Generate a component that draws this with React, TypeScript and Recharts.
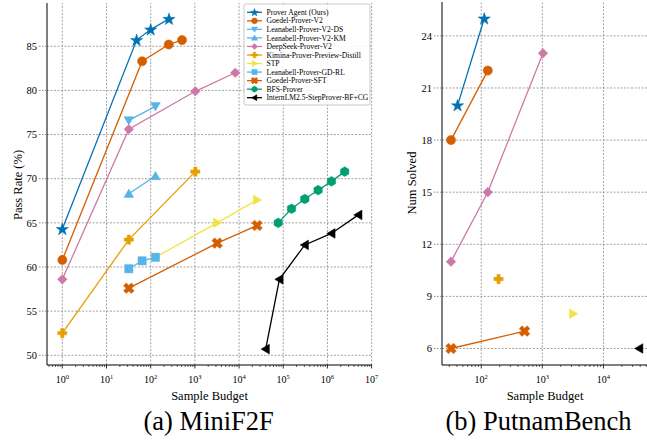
import React from "react";
import { LineChart, Line, XAxis, YAxis, ReferenceLine } from "recharts";

const FONT = "'Liberation Serif', 'Times New Roman', 'DejaVu Serif', serif";

// ---- MiniF2F: pass rate (%) vs sample budget ----
const agentF2FBudget = [1, 48, 100, 260];
const agentF2FPass = [64.3, 85.7, 86.9, 88.1];
const goedelV2F2FBudget = [1, 64, 256, 512];
const goedelV2F2FPass = [60.8, 83.3, 85.2, 85.7];
const leanDsBudget = [32, 128];
const leanDsPass = [76.6, 78.2];
const leanKmBudget = [32, 128];
const leanKmPass = [68.3, 70.3];
const deepseekF2FBudget = [1, 32, 1024, 8192];
const deepseekF2FPass = [58.6, 75.6, 79.9, 82.0];
const kiminaF2FBudget = [1, 32, 1024];
const kiminaF2FPass = [52.5, 63.1, 70.8];
const stpF2FBudget = [128, 3200, 25600];
const stpF2FPass = [61.1, 65.0, 67.6];
const leanGdBudget = [32, 64, 128];
const leanGdPass = [59.8, 60.7, 61.1];
const goedelSftF2FBudget = [32, 3200, 25600];
const goedelSftF2FPass = [57.6, 62.7, 64.7];
const bfsBudget = [76800, 153600, 307200, 614400, 1228800, 2457600];
const bfsPass = [65.0, 66.6, 67.7, 68.7, 69.7, 70.8];
const internF2FBudget = [40000, 81920, 307200, 1228800, 5000000];
const internF2FPass = [50.7, 58.6, 62.5, 63.8, 65.9];

// ---- PutnamBench: problems solved vs sample budget ----
const agentPutBudget = [41, 112];
const agentPutSolved = [20, 25];
const goedelV2PutBudget = [32, 128];
const goedelV2PutSolved = [18, 22];
const deepseekPutBudget = [32, 128, 1024];
const deepseekPutSolved = [11, 15, 23];
const kiminaPutBudget = [192];
const kiminaPutSolved = [10];
const stpPutBudget = [3200];
const stpPutSolved = [8];
const goedelSftPutBudget = [32, 512];
const goedelSftPutSolved = [6, 7];
const internPutBudget = [38400];
const internPutSolved = [6];

// axes
const f2fXMajor = [1, 10, 100, 1000, 10000, 100000, 1000000, 10000000];
const f2fYTicks = [50, 55, 60, 65, 70, 75, 80, 85];
const putXMajor = [100, 1000, 10000];
const putYTicks = [6, 9, 12, 15, 18, 21, 24];
const f2fXDomain = [0.45, 1.02e7];
const f2fYDomain = [48.9, 89.9];
const putXDomain = [22.8, 55600];
const putYDomain = [5.05, 25.95];

const zip = (xs: number[], ys: number[]) => xs.map((x, i) => ({ x, y: ys[i] }));

function logTicks(domain: number[]) {
  const out: number[] = [];
  for (let k = -2; k <= 8; k++) {
    for (let m = 1; m <= 9; m++) {
      const v = m * Math.pow(10, k);
      if (v >= domain[0] && v <= domain[1]) out.push(v);
    }
  }
  return out;
}

type Series = { name: string; color: string; shape: string; data: { x: number; y: number }[] };

const f2fSeries: Series[] = [
  { name: "Prover Agent (Ours)", color: "#0072B2", shape: "star", data: zip(agentF2FBudget, agentF2FPass) },
  { name: "Goedel-Prover-V2", color: "#D55E00", shape: "circle", data: zip(goedelV2F2FBudget, goedelV2F2FPass) },
  { name: "Leanabell-Prover-V2-DS", color: "#56B4E9", shape: "tdown", data: zip(leanDsBudget, leanDsPass) },
  { name: "Leanabell-Prover-V2-KM", color: "#56B4E9", shape: "tup", data: zip(leanKmBudget, leanKmPass) },
  { name: "DeepSeek-Prover-V2", color: "#CC79A7", shape: "diamond", data: zip(deepseekF2FBudget, deepseekF2FPass) },
  { name: "Kimina-Prover-Preview-Distill", color: "#E69F00", shape: "plus", data: zip(kiminaF2FBudget, kiminaF2FPass) },
  { name: "STP", color: "#F0E442", shape: "tright", data: zip(stpF2FBudget, stpF2FPass) },
  { name: "Leanabell-Prover-GD-RL", color: "#56B4E9", shape: "square", data: zip(leanGdBudget, leanGdPass) },
  { name: "Goedel-Prover-SFT", color: "#D55E00", shape: "x", data: zip(goedelSftF2FBudget, goedelSftF2FPass) },
  { name: "BFS-Prover", color: "#009E73", shape: "hexagon", data: zip(bfsBudget, bfsPass) },
  { name: "InternLM2.5-StepProver-BF+CG", color: "#000000", shape: "tleft", data: zip(internF2FBudget, internF2FPass) },
];

const putSeries: Series[] = [
  { name: "Prover Agent (Ours)", color: "#0072B2", shape: "star", data: zip(agentPutBudget, agentPutSolved) },
  { name: "Goedel-Prover-V2", color: "#D55E00", shape: "circle", data: zip(goedelV2PutBudget, goedelV2PutSolved) },
  { name: "DeepSeek-Prover-V2", color: "#CC79A7", shape: "diamond", data: zip(deepseekPutBudget, deepseekPutSolved) },
  { name: "Kimina-Prover-Preview-Distill", color: "#E69F00", shape: "plus", data: zip(kiminaPutBudget, kiminaPutSolved) },
  { name: "STP", color: "#F0E442", shape: "tright", data: zip(stpPutBudget, stpPutSolved) },
  { name: "Goedel-Prover-SFT", color: "#D55E00", shape: "x", data: zip(goedelSftPutBudget, goedelSftPutSolved) },
  { name: "InternLM2.5-StepProver-BF+CG", color: "#000000", shape: "tleft", data: zip(internPutBudget, internPutSolved) },
];

function Marker({ cx, cy, shape, color, s }: any) {
  if (cx == null || cy == null) return null;
  const common = { fill: color, stroke: color, strokeWidth: 0.5 };
  const poly = (pts: number[][]) => (
    <polygon points={pts.map(([a, b]) => `${cx + a * s},${cy + b * s}`).join(" ")} {...common} />
  );
  const a = 0.36;
  const plusPts = [
    [-a, -1], [a, -1], [a, -a], [1, -a], [1, a], [a, a],
    [a, 1], [-a, 1], [-a, a], [-1, a], [-1, -a], [-a, -a],
  ];
  switch (shape) {
    case "star": {
      const pts: number[][] = [];
      for (let i = 0; i < 10; i++) {
        const r = i % 2 === 0 ? 1.4 : 0.55;
        const ang = -Math.PI / 2 + (i * Math.PI) / 5;
        pts.push([r * Math.cos(ang), r * Math.sin(ang) + 0.1]);
      }
      return poly(pts);
    }
    case "circle":
      return <circle cx={cx} cy={cy} r={s} {...common} />;
    case "tdown":
      return poly([[-1.05, -0.8], [1.05, -0.8], [0, 1.0]]);
    case "tup":
      return poly([[-1.05, 0.8], [1.05, 0.8], [0, -1.0]]);
    case "tright":
      return poly([[-0.8, -1.05], [-0.8, 1.05], [1.0, 0]]);
    case "tleft":
      return poly([[0.8, -1.05], [0.8, 1.05], [-1.0, 0]]);
    case "diamond":
      return poly([[0, -1.05], [1.05, 0], [0, 1.05], [-1.05, 0]]);
    case "square":
      return poly([[-0.9, -0.9], [0.9, -0.9], [0.9, 0.9], [-0.9, 0.9]]);
    case "plus":
      return poly(plusPts);
    case "x":
      return poly(plusPts.map(([p, q]) => [((p - q) / Math.SQRT2) * 1.2, ((p + q) / Math.SQRT2) * 1.2]));
    case "hexagon": {
      const pts: number[][] = [];
      for (let i = 0; i < 6; i++) {
        const ang = -Math.PI / 2 + (i * Math.PI) / 3;
        pts.push([1.05 * Math.cos(ang), 1.05 * Math.sin(ang)]);
      }
      return poly(pts);
    }
    default:
      return null;
  }
}

function LogTick(props: any) {
  const { x, y, payload } = props;
  const v = payload.value;
  const e = Math.round(Math.log10(v));
  const major = Math.abs(v - Math.pow(10, e)) < 1e-6 * v;
  return (
    <g>
      <line x1={x} x2={x} y1={y} y2={y + (major ? 3.5 : 2)} stroke="#000" strokeWidth={major ? 0.8 : 0.6} />
      {major && (
        <text x={x} y={y + 18} textAnchor="middle" fontSize={10} style={{ fontFamily: FONT }} fill="#000">
          10
          <tspan dy={-4.5} fontSize={6.5}>
            {e}
          </tspan>
        </text>
      )}
    </g>
  );
}

const gridStyle = { stroke: "#8c8c8c", strokeDasharray: "2 1.5", strokeWidth: 0.8 };

function Panel({ series, xMajor, xDomain, yTicks, yDomain, width, margin }: any) {
  return (
    <LineChart width={width} height={390} margin={margin} style={{ fontFamily: FONT }}>
      <XAxis
        dataKey="x"
        type="number"
        scale="log"
        domain={xDomain}
        ticks={logTicks(xDomain)}
        interval={0}
        allowDataOverflow
        height={25}
        tickSize={0}
        tickMargin={0}
        tickLine={false}
        axisLine={{ stroke: "#000", strokeWidth: 1 }}
        tick={(p: any) => <LogTick {...p} />}
      />
      <XAxis
        xAxisId="top"
        orientation="top"
        type="number"
        scale="log"
        domain={xDomain}
        allowDataOverflow
        height={0}
        tick={false}
        tickLine={false}
        axisLine={{ stroke: "#000", strokeWidth: 1 }}
      />
      <YAxis
        type="number"
        domain={yDomain}
        ticks={yTicks}
        interval={0}
        allowDataOverflow
        width={30}
        tickSize={8}
        tickMargin={2}
        tickLine={{ stroke: "#8c8c8c", strokeDasharray: "1.5 1.5" }}
        axisLine={{ stroke: "#000", strokeWidth: 1 }}
        tick={{ fontSize: 10.5, fill: "#000", style: { fontFamily: FONT } }}
      />
      <YAxis
        yAxisId="right"
        orientation="right"
        type="number"
        domain={yDomain}
        allowDataOverflow
        width={0}
        tick={false}
        tickLine={false}
        axisLine={{ stroke: "#000", strokeWidth: 1 }}
      />
      {xMajor.map((v: number) => (
        <ReferenceLine key={"gx" + v} x={v} {...gridStyle} />
      ))}
      {yTicks.map((v: number) => (
        <ReferenceLine key={"gy" + v} y={v} {...gridStyle} />
      ))}
      {series.map((s: Series) => (
        <Line
          key={s.name}
          data={s.data}
          dataKey="y"
          name={s.name}
          stroke={s.color}
          strokeWidth={1.3}
          isAnimationActive={false}
          activeDot={false}
          dot={(p: any) => (
            <Marker key={`${s.name}-${p.index}`} cx={p.cx} cy={p.cy} shape={s.shape} color={s.color} s={4.6} />
          )}
        />
      ))}
    </LineChart>
  );
}

export default function App() {
  return (
    <div
      style={{
        position: "fixed",
        left: 0,
        top: 0,
        width: 647,
        height: 441,
        overflow: "hidden",
        background: "#fff",
        fontFamily: FONT,
      }}
    >
      <div style={{ position: "absolute", left: 0, top: 0 }}>
        <Panel
          series={f2fSeries}
          xMajor={f2fXMajor}
          xDomain={f2fXDomain}
          yTicks={f2fYTicks}
          yDomain={f2fYDomain}
          width={380}
          margin={{ top: 3, right: 8, left: 17, bottom: 0 }}
        />
      </div>
      <div style={{ position: "absolute", left: 400, top: 0 }}>
        <Panel
          series={putSeries}
          xMajor={putXMajor}
          xDomain={putXDomain}
          yTicks={putYTicks}
          yDomain={putYDomain}
          width={260}
          margin={{ top: 2, right: 11, left: 12, bottom: 0 }}
        />
      </div>
      <svg
        width={647}
        height={441}
        style={{ position: "absolute", left: 0, top: 0, pointerEvents: "none", fontFamily: FONT }}
      >
        <rect x={244} y={4} width={126} height={101} rx={2} fill="#fff" fillOpacity={0.85} stroke="#bbb" strokeWidth={0.8} />
        {f2fSeries.map((s, i) => {
          const yy = 12.3 + i * 8.54;
          return (
            <g key={s.name}>
              <line x1={247} x2={262} y1={yy} y2={yy} stroke={s.color} strokeWidth={1.3} />
              <Marker cx={254.5} cy={yy} shape={s.shape} color={s.color} s={2.9} />
              <text x={266.5} y={yy + 2.6} fontSize={7.6} fill="#000">
                {s.name}
              </text>
            </g>
          );
        })}
        <text x={19} y={185} fontSize={12.5} textAnchor="middle" transform="rotate(-90 19 185)" dominantBaseline="middle" fill="#000">
          Pass Rate (%)
        </text>
        <text x={413} y={183} fontSize={12.5} textAnchor="middle" transform="rotate(-90 413 183)" dominantBaseline="middle" fill="#000">
          Num Solved
        </text>
        <text x={209.5} y={400} fontSize={12.5} textAnchor="middle" fill="#000">
          Sample Budget
        </text>
        <text x={545} y={400} fontSize={12.5} textAnchor="middle" fill="#000">
          Sample Budget
        </text>
        <text x={208.7} y={430} fontSize={26.5} textAnchor="middle" fill="#000">
          (a) MiniF2F
        </text>
        <text x={538.5} y={430} fontSize={26.5} textAnchor="middle" fill="#000">
          (b) PutnamBench
        </text>
      </svg>
    </div>
  );
}
